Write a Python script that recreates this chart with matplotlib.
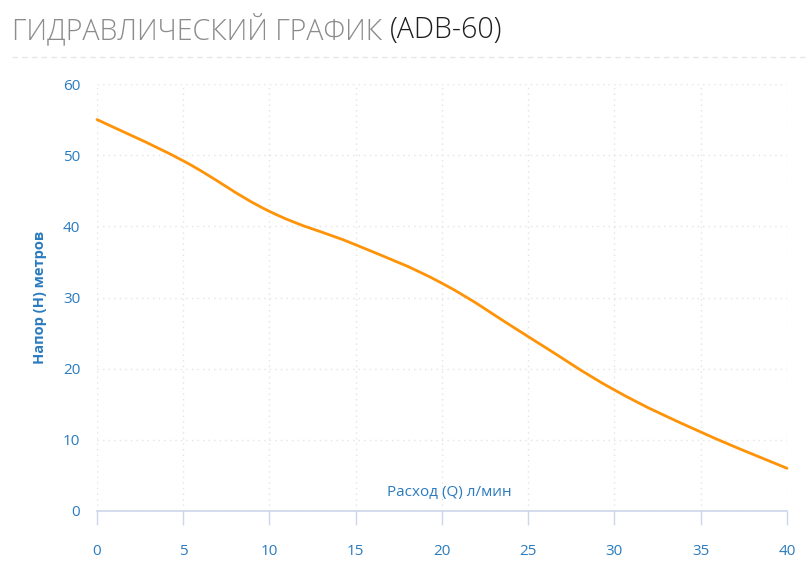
import numpy as np
import matplotlib.pyplot as plt
from matplotlib.path import Path
from matplotlib.patches import PathPatch
from matplotlib.lines import Line2D

# расход, л/мин и напор, м (ADB-60)
flow = [0, 5, 10, 15, 20, 25, 30, 35, 40]
head = [55.0, 49.2, 42.1, 37.4, 32.0, 24.5, 17.0, 11.1, 6.0]
x_ticks = [0, 5, 10, 15, 20, 25, 30, 35, 40]
y_ticks = [0, 10, 20, 30, 40, 50, 60]

title_main = "ГИДРАВЛИЧЕСКИЙ ГРАФИК "
title_model = "(ADB-60)"
x_label = "Расход (Q) л/мин"
y_label = "Напор (H) метров"

BLUE = "#2a7bbf"
ORANGE = "#ff9307"
GRID = "#e3e3e3"


def smooth_path(xs, ys, tension=0.2):
    """Bezier path through the points (cardinal spline style)."""
    pts = np.column_stack([xs, ys]).astype(float)
    verts = [pts[0]]
    codes = [Path.MOVETO]
    n = len(pts)
    for i in range(n - 1):
        p0 = pts[max(i - 1, 0)]
        p1 = pts[i]
        p2 = pts[i + 1]
        p3 = pts[min(i + 2, n - 1)]
        c1 = p1 + tension * (p2 - p0)
        c2 = p2 - tension * (p3 - p1)
        verts += [c1, c2, p2]
        codes += [Path.CURVE4] * 3
    return Path(verts, codes)


plt.rcParams["font.family"] = ["Open Sans", "DejaVu Sans"]

fig = plt.figure(figsize=(8.12, 5.82), dpi=100)
ax = fig.add_axes([97 / 812, 1 - 511 / 582, 690 / 812, 427 / 582])

ax.set_xlim(0, 40)
ax.set_ylim(0, 60)
ax.set_xticks(x_ticks)
ax.set_yticks(y_ticks)

ax.grid(True, color=GRID, linestyle=(0, (1, 3)), linewidth=1)
ax.set_axisbelow(True)
for side in ["top", "right", "left"]:
    ax.spines[side].set_visible(False)
ax.spines["bottom"].set_color("#ccd6eb")
ax.spines["bottom"].set_linewidth(1.2)

ax.tick_params(axis="x", direction="out", length=10, width=1, color="#ccd6eb",
               labelcolor=BLUE, labelsize=11, pad=14)
ax.tick_params(axis="y", length=0, labelcolor=BLUE, labelsize=11, pad=12)

patch = PathPatch(smooth_path(flow, head), facecolor="none", edgecolor=ORANGE,
                  linewidth=2.0, capstyle="round", clip_on=False)
ax.add_patch(patch)

ax.text(0.51, 0.026, x_label, transform=ax.transAxes, ha="center", va="bottom",
        color=BLUE, fontsize=11)
fig.text(40 / 812, 1 - 297 / 582, y_label, rotation=90, ha="center", va="center",
         color=BLUE, fontsize=10.5, fontweight="bold")

# title in two colours
t1 = fig.text(12 / 812, 1 - 30 / 582, title_main, ha="left", va="center",
              color="#8c8c8c", fontsize=20.6, fontweight="light")
fig.canvas.draw()
bb = t1.get_window_extent(fig.canvas.get_renderer())
fig.text(bb.x1 / fig.bbox.width, 1 - 30 / 582, title_model, ha="left", va="center",
         color="#1e1e1e", fontsize=20.6, fontweight="light")

fig.add_artist(Line2D([12 / 812, 808 / 812], [1 - 57 / 582] * 2, transform=fig.transFigure,
                      color="#e6e6e6", linestyle=(0, (4, 3)), linewidth=1))

fig.savefig("out.png", dpi=100)
